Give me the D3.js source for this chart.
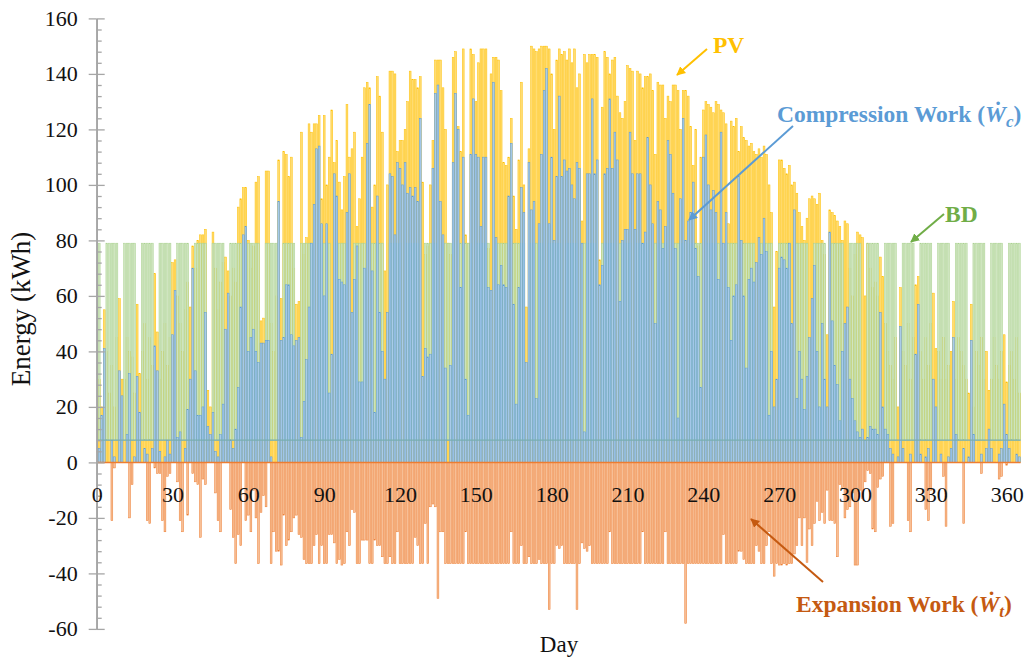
<!DOCTYPE html>
<html>
<head>
<meta charset="utf-8">
<script src="https://cdn.jsdelivr.net/npm/d3@7"></script>
<style>
  body { margin: 0; background: #fff; }
  svg { display: block; font-family: 'Liberation Serif', 'Times New Roman', serif; }
</style>
</head>
<body>
<svg id="chart" width="1032" height="661"></svg>
<script>
'use strict'

// daily energy in kWh, day 1 .. 365
const pv = [
  30, 20, 55, 40, 25, 35, 20, 45, 59, 30,
  30, 45, 40, 38, 25, 57, 32, 40, 50, 30,
  45, 35, 68, 47, 30, 40, 50, 35, 45, 72,
  73, 60, 50, 40, 55, 65, 56, 78, 70, 80,
  82, 82, 84, 26, 20, 83, 70, 55, 65, 72,
  74, 69, 60, 70, 65, 92, 95, 99, 99, 80,
  70, 78, 101, 103, 51, 52, 105, 105, 50, 40,
  60, 109, 59, 112, 111, 103, 110, 70, 57, 58,
  119, 75, 81, 122, 119, 122, 122, 125, 95, 125,
  100, 110, 127, 108, 116, 101, 91, 103, 129, 110,
  113, 119, 85, 95, 110, 135, 137, 135, 92, 100,
  139, 132, 119, 69, 100, 141, 141, 140, 112, 116,
  116, 120, 130, 141, 138, 138, 135, 139, 101, 75,
  78, 100, 116, 145, 145, 145, 135, 120, 79, 75,
  146, 148, 121, 112, 149, 82, 79, 149, 147, 130,
  144, 149, 149, 149, 77, 140, 146, 146, 145, 134,
  108, 107, 110, 124, 96, 84, 109, 137, 100, 56,
  113, 150, 149, 148, 149, 150, 150, 150, 149, 140,
  120, 145, 149, 147, 148, 145, 149, 144, 149, 135,
  140, 87, 147, 144, 147, 147, 147, 146, 73, 128,
  148, 146, 140, 145, 146, 132, 126, 124, 130, 143,
  142, 141, 116, 141, 140, 135, 139, 139, 140, 134,
  111, 137, 136, 136, 124, 132, 130, 136, 136, 134,
  120, 134, 134, 132, 121, 107, 120, 78, 110, 127,
  130, 129, 128, 126, 130, 129, 127, 126, 122, 86,
  123, 121, 124, 112, 121, 117, 116, 114, 115, 112,
  111, 113, 110, 114, 111, 100, 90, 56, 76, 109,
  109, 106, 104, 107, 100, 101, 97, 90, 85, 80,
  88, 95, 96, 95, 93, 97, 80, 75, 46, 91,
  90, 89, 87, 85, 80, 87, 86, 70, 60, 75,
  83, 82, 81, 60, 79, 70, 63, 65, 60, 74,
  67, 50, 40, 35, 30, 45, 20, 63, 40, 35,
  50, 30, 45, 64, 67, 40, 30, 45, 35, 50,
  61, 41, 40, 30, 45, 30, 35, 40, 58, 30,
  45, 40, 35, 30, 25, 57, 20, 40, 35, 45,
  30, 40, 26, 30, 45, 35, 30, 40, 46, 29,
  35, 40, 30, 45, 25
]

const wc = [
  5, 17, 41, 0, 0, 8, 2, 0, 33, 24,
  0, 10, 32, 0, 2, 31, 18, 0, 5, 3,
  0, 5, 42, 33, 4, 0, 2, 8, 3, 46,
  62, 9, 11, 0, 5, 19, 30, 70, 33, 17,
  17, 20, 54, 13, 10, 18, 4, 2, 10, 21,
  48, 61, 8, 5, 12, 27, 56, 82, 85, 40,
  45, 48, 40, 36, 43, 43, 44, 44, 2, 0,
  0, 94, 44, 45, 64, 64, 46, 42, 44, 45,
  9, 22, 37, 56, 79, 93, 113, 114, 86, 60,
  86, 25, 39, 104, 96, 66, 65, 64, 90, 104,
  54, 66, 78, 29, 29, 70, 115, 129, 69, 18,
  96, 54, 40, 30, 54, 104, 103, 82, 108, 106,
  100, 108, 97, 99, 96, 99, 94, 124, 31, 41,
  38, 39, 106, 133, 136, 94, 82, 34, 0, 35,
  108, 133, 120, 63, 110, 30, 17, 111, 131, 111,
  110, 85, 110, 110, 63, 62, 137, 81, 64, 71,
  64, 63, 96, 115, 57, 21, 63, 99, 90, 36,
  108, 91, 94, 23, 86, 111, 134, 142, 86, 110,
  80, 103, 132, 103, 109, 105, 106, 100, 95, 108,
  106, 79, 11, 104, 104, 131, 104, 109, 64, 71,
  104, 106, 131, 106, 119, 109, 58, 80, 84, 84,
  119, 104, 84, 104, 104, 79, 83, 117, 100, 86,
  50, 94, 91, 77, 85, 116, 111, 97, 77, 16,
  95, 124, 80, 87, 90, 101, 77, 67, 27, 110,
  118, 100, 91, 98, 90, 66, 119, 79, 90, 63,
  44, 60, 64, 103, 80, 60, 34, 66, 70, 65,
  72, 81, 75, 88, 76, 17, 40, 20, 30, 70,
  74, 73, 70, 79, 50, 91, 23, 40, 30, 19,
  31, 45, 59, 71, 40, 20, 50, 30, 20, 83,
  51, 35, 28, 15, 40, 50, 56, 30, 23, 15,
  11, 9, 12, 8, 9, 13, 12, 12, 10, 54,
  20, 12, 10, 5, 3, 0, 2, 49, 5, 0,
  0, 3, 0, 39, 57, 3, 0, 2, 5, 0,
  30, 20, 0, 3, 0, 0, 2, 5, 45, 10,
  0, 0, 5, 0, 2, 44, 10, 0, 0, 3,
  0, 5, 12, 5, 0, 0, 3, 5, 21, 10,
  5, 0, 0, 3, 2
]

const wt = [
  0, 0, 0, 0, 0, -21, -2, 0, 0, 0,
  0, 0, -20, -8, 0, 0, 0, 0, 0, -21,
  -22, 0, -2, -4, -4, -21, -25, -5, -4, 0,
  0, -7, -21, -25, 0, -19, 0, -4, -7, -8,
  -27, -6, -8, 0, 0, 0, -11, -21, -25, 0,
  0, 0, -17, -27, -36.5, -26, -30, 0, -21, -19,
  -25, -10, -20, -36.5, -18, -12, -16, 0, -36.5, -25,
  -32, -32, -37, -19, -30, -28, -25, -20, -19, -26,
  -27, -35, -36.5, -36.5, -36.5, -30, -26, -36.5, -30, -36.5,
  -36.5, -26, -26, -29, -36.5, -35, -37, -36.5, -25, -30,
  -17, -18, -36.5, -36.5, -28, -28, -28, -36.5, -36.5, -28,
  -30, -30, -34, -36.5, -36.5, -34, -36.5, -36.5, -25, -36.5,
  -36.5, -36.5, -36.5, -36.5, -36.5, -27, -30, -36.5, -36.5, -22,
  -36.5, -16, -15, -16, -49, -25, -25, -36.5, -36.5, -36.5,
  -36.5, -36.5, -36.5, -36.5, -36.5, -25, -36.5, -36.5, -36.5, -36.5,
  -36.5, -36.5, -36.5, -36.5, -36.5, -36.5, -36.5, -36.5, -36.5, -36.5,
  -36.5, -36.5, -36.5, -25, -36.5, -36.5, -36.5, -30, -36.5, -36.5,
  -34, -36.5, -36.5, -36.5, -35, -36.5, -36.5, -36.5, -53, -36.5,
  -36.5, -30, -31, -30, -36.5, -36.5, -36.5, -36.5, -36.5, -53,
  -36.5, -29, -31, -32, -30, -36.5, -36.5, -36.5, -36.5, -36.5,
  -36.5, -36.5, -25, -36.5, -36.5, -36.5, -36.5, -36.5, -36.5, -36.5,
  -36.5, -36.5, -36.5, -36.5, -36.5, -25, -36.5, -36.5, -36.5, -36.5,
  -36.5, -36.5, -36.5, -36.5, -25, -36.5, -36.5, -36.5, -36.5, -36.5,
  -36.5, -36.5, -58, -36.5, -36.5, -36.5, -36.5, -36.5, -36.5, -36.5,
  -36.5, -36.5, -36.5, -36.5, -36.5, -36.5, -36.5, -26, -36.5, -36.5,
  -36.5, -36.5, -36.5, -32, -32, -35, -36.5, -36.5, -36.5, -36.5,
  -30, -32, -36.5, -36.5, -30, -25, -36.5, -41, -36.5, -37,
  -37, -36.5, -37, -36.5, -36.5, -33, -30, -20, -30, -20,
  -36, -24, -30, -22, -14, -21, -18, -22, -10, -21,
  -21, -22, -34, -8, -9, -20, -17, -16, -11, -37,
  -37, -10, -13, -7, -3, -4, -24, -25, -9, -6,
  -5, 0, 0, -23, -22, 0, 0, 0, 0, 0,
  -21, -25, 0, 0, 0, 0, 0, -17, -21, -10,
  0, 0, 0, 0, -5, -23, 0, 0, 0, 0,
  0, 0, -22, 0, 0, 0, 0, 0, 0, -4,
  0, 0, 0, 0, 0, 0, -6, -5, 0, -1,
  0, 0, 0, 0, 0
]

// building demand on working days, nothing on the two weekend days (index = day % 7)
const bdWeek = [79, 79, 0, 0, 79, 79, 79]
// the thin line that runs along the bottom of the BD bars
const baseLoad = 8

const yTicks = d3.range(-60, 161, 20)
const yMinor = d3.range(-60, 161, 4).filter(v => v % 20 !== 0)
const xTicks = d3.range(0, 361, 30)
const days = d3.range(1, pv.length + 1)

const svg = d3.select('#chart')
const x = d3.scaleLinear().domain([0, 360]).range([96.7, 1006.7])
const y = d3.scaleLinear().domain([-60, 160]).range([628.9, 18.4])
const bw = x(1) - x(0)
const barW = bw * 0.72

function bars (cls, y0, y1, fill, stroke) {
  svg.append('g').attr('class', cls)
    .selectAll('rect')
    .data(days.filter(d => y0(d) !== y1(d)))
    .join('rect')
    .attr('x', d => x(d) - barW / 2)
    .attr('width', barW)
    .attr('y', d => y(Math.max(y0(d), y1(d))))
    .attr('height', d => Math.abs(y(y0(d)) - y(y1(d))))
    .attr('fill', fill)
    .attr('stroke', stroke)
    .attr('stroke-width', 0.5)
}

bars('pv', d => 0, d => pv[d - 1], '#ffdc73', '#ffc000')
bars('bd', d => bdWeek[d % 7] ? baseLoad : 0, d => bdWeek[d % 7], '#cfe5c0', '#a9d18e')
bars('wc', d => 0, d => wc[d - 1], '#a9cbea', '#5b9bd5')
bars('wt', d => 0, d => wt[d - 1], '#f7bf96', '#ed7d31')

svg.append('line')
  .attr('x1', x(0)).attr('x2', x(days.length) + bw / 2)
  .attr('y1', y(baseLoad)).attr('y2', y(baseLoad))
  .attr('stroke', '#79aeb0').attr('stroke-width', 1.2)

svg.append('line')
  .attr('x1', x(0)).attr('x2', x(days.length) + bw / 2)
  .attr('y1', y(0)).attr('y2', y(0))
  .attr('stroke', '#ed7d31').attr('stroke-width', 1.5)

// y axis: major ticks cross the line, minor ticks on the right only
const axisColor = '#a6a6a6'
const yLeft = svg.append('g').attr('transform', `translate(${x(0)},0)`)
  .call(d3.axisLeft(y).tickValues(yTicks).tickSizeInner(8).tickSizeOuter(0).tickPadding(11).tickFormat(d => String(d)))
const yRight = svg.append('g').attr('transform', `translate(${x(0)},0)`)
  .call(d3.axisRight(y).tickValues(yTicks).tickSizeInner(8).tickSizeOuter(0).tickFormat(''))
const yMin = svg.append('g').attr('transform', `translate(${x(0)},0)`)
  .call(d3.axisRight(y).tickValues(yMinor).tickSizeInner(5).tickSizeOuter(0).tickFormat(''))
for (const g of [yLeft, yRight, yMin]) {
  g.select('.domain').attr('stroke', axisColor).attr('stroke-width', 1.6)
  g.selectAll('.tick line').attr('stroke', axisColor).attr('stroke-width', 1.3)
}
yLeft.selectAll('text')
  .attr('font-family', 'Liberation Serif, serif')
  .attr('font-size', 22).attr('fill', '#111')

const xAxisG = svg.append('g').attr('transform', `translate(0,${y(0)})`)
  .call(d3.axisBottom(x).tickValues(xTicks).tickSize(0).tickPadding(24))
xAxisG.select('.domain').remove()
xAxisG.selectAll('text')
  .attr('font-family', 'Liberation Serif, serif')
  .attr('font-size', 22).attr('fill', '#111')

svg.append('text')
  .attr('transform', 'translate(30,309) rotate(-90)')
  .attr('text-anchor', 'middle')
  .attr('font-size', 27).attr('fill', '#111')
  .text('Energy (kWh)')

svg.append('text')
  .attr('x', 559).attr('y', 652)
  .attr('text-anchor', 'middle')
  .attr('font-size', 23).attr('fill', '#111')
  .text('Day')

// callouts
const notes = [
  {color: '#ffc000', from: [707, 49], to: [677, 75], at: [713, 53], main: 'PV'},
  {color: '#5b9bd5', from: [793, 126], to: [689, 220], at: [777, 122], main: 'Compression Work (', sym: 'c'},
  {color: '#70ad47', from: [944, 214], to: [911, 242], at: [945, 222], main: 'BD'},
  {color: '#c55a11', from: [823, 582], to: [751, 519], at: [796, 612], main: 'Expansion Work (', sym: 't'}
]
const defs = svg.append('defs')
notes.forEach((n, i) => {
  defs.append('marker')
    .attr('id', 'head' + i)
    .attr('viewBox', '0 0 10 10')
    .attr('refX', 9).attr('refY', 5)
    .attr('markerWidth', 4.5).attr('markerHeight', 4.5)
    .attr('orient', 'auto')
    .append('path').attr('d', 'M0,0 L10,5 L0,10 Z').attr('fill', n.color)
  svg.append('line')
    .attr('x1', n.from[0]).attr('y1', n.from[1])
    .attr('x2', n.to[0]).attr('y2', n.to[1])
    .attr('stroke', n.color).attr('stroke-width', 2)
    .attr('marker-end', `url(#head${i})`)
  const t = svg.append('text')
    .attr('x', n.at[0]).attr('y', n.at[1])
    .attr('font-size', 23.5).attr('font-weight', 'bold')
    .attr('fill', n.color)
  t.append('tspan').text(n.main)
  if (n.sym) {
    t.append('tspan').attr('font-style', 'italic').text('\u1E86')
    t.append('tspan').attr('font-style', 'italic').attr('font-size', 17).attr('dy', 5).text(n.sym)
    t.append('tspan').attr('dy', -5).text(')')
  }
})
</script>
</body>
</html>
